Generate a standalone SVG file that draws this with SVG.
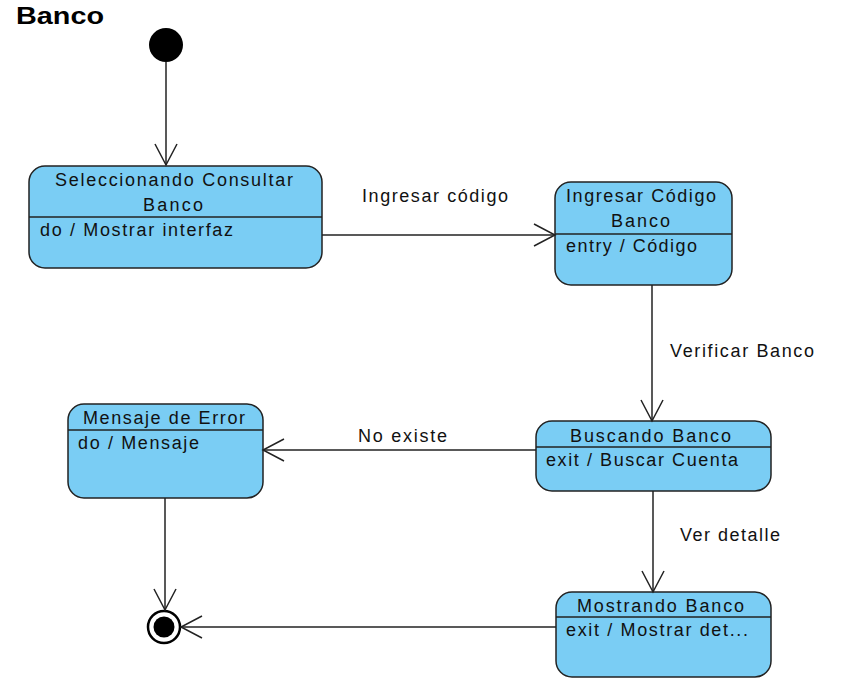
<svg xmlns="http://www.w3.org/2000/svg" width="852" height="692" viewBox="0 0 852 692">
<style>
.st{fill:#7acdf4;stroke:#222;stroke-width:1.5}
.dv{stroke:#222;stroke-width:1.5}
.t{font-family:"Liberation Sans",Arial,sans-serif;font-size:18px;fill:#111}
.cn{fill:none;stroke:#222;stroke-width:1.5}
.title{font-family:"Liberation Sans",Arial,sans-serif;font-size:24px;font-weight:bold;fill:#000}
</style>
<defs>
<marker id="open" markerUnits="userSpaceOnUse" viewBox="0 0 24 24" markerWidth="24" markerHeight="24" refX="22" refY="12" orient="auto">
<path d="M1,1 L22,12 L1,23" fill="none" stroke="#222" stroke-width="1.5"/>
</marker>
</defs>
<rect width="852" height="692" fill="#fff"/>
<text class="title" x="16" y="24" textLength="88" lengthAdjust="spacingAndGlyphs">Banco</text>

<g id="initial">
<circle cx="166" cy="45" r="17" fill="#000"/>
</g>

<g id="final">
<circle cx="164" cy="627" r="16" fill="#fff" stroke="#000" stroke-width="2.5"/>
<circle cx="164" cy="627" r="10.5" fill="#000"/>
</g>

<g id="seleccionando">
<rect class="st" x="29" y="166" width="293" height="102" rx="16"/>
<line class="dv" x1="29" y1="217" x2="322" y2="217"/>
<text class="t" x="55" y="186" textLength="238" lengthAdjust="spacing">Seleccionando Consultar</text>
<text class="t" x="143" y="211" textLength="60" lengthAdjust="spacing">Banco</text>
<text class="t" x="40" y="236" textLength="193" lengthAdjust="spacing">do / Mostrar interfaz</text>
</g>

<g id="ingresar">
<rect class="st" x="555" y="182" width="177" height="103" rx="16"/>
<line class="dv" x1="555" y1="234" x2="732" y2="234"/>
<text class="t" x="566" y="202" textLength="150" lengthAdjust="spacing">Ingresar Código</text>
<text class="t" x="611" y="227" textLength="59" lengthAdjust="spacing">Banco</text>
<text class="t" x="566" y="252" textLength="131" lengthAdjust="spacing">entry / Código</text>
</g>

<g id="buscando">
<rect class="st" x="536" y="421" width="235" height="70" rx="16"/>
<line class="dv" x1="536" y1="447" x2="771" y2="447"/>
<text class="t" x="570" y="442" textLength="161" lengthAdjust="spacing">Buscando Banco</text>
<text class="t" x="546" y="466" textLength="192" lengthAdjust="spacing">exit / Buscar Cuenta</text>
</g>

<g id="mensaje">
<rect class="st" x="68" y="404" width="195" height="94" rx="16"/>
<line class="dv" x1="68" y1="430" x2="263" y2="430"/>
<text class="t" x="83" y="424" textLength="162" lengthAdjust="spacing">Mensaje de Error</text>
<text class="t" x="78" y="449" textLength="121" lengthAdjust="spacing">do / Mensaje</text>
</g>

<g id="mostrando">
<rect class="st" x="556" y="592" width="215" height="85" rx="16"/>
<line class="dv" x1="556" y1="617" x2="771" y2="617"/>
<text class="t" x="577" y="612" textLength="167" lengthAdjust="spacing">Mostrando Banco</text>
<text class="t" x="566" y="636" textLength="182" lengthAdjust="spacing">exit / Mostrar det...</text>
</g>

<g id="connectors">
<line class="cn" x1="166" y1="62" x2="166" y2="165" marker-end="url(#open)"/>
<line class="cn" x1="322" y1="235" x2="555" y2="235" marker-end="url(#open)"/>
<line class="cn" x1="652" y1="285" x2="652" y2="421" marker-end="url(#open)"/>
<line class="cn" x1="536" y1="450" x2="263" y2="450" marker-end="url(#open)"/>
<line class="cn" x1="653" y1="491" x2="653" y2="592" marker-end="url(#open)"/>
<line class="cn" x1="165" y1="498" x2="165" y2="610" marker-end="url(#open)"/>
<line class="cn" x1="556" y1="627" x2="181" y2="627" marker-end="url(#open)"/>
<text class="t" x="362" y="202" textLength="146" lengthAdjust="spacing">Ingresar código</text>
<text class="t" x="670" y="357" textLength="144" lengthAdjust="spacing">Verificar Banco</text>
<text class="t" x="358" y="442" textLength="89" lengthAdjust="spacing">No existe</text>
<text class="t" x="680" y="541" textLength="100" lengthAdjust="spacing">Ver detalle</text>
</g>
</svg>
